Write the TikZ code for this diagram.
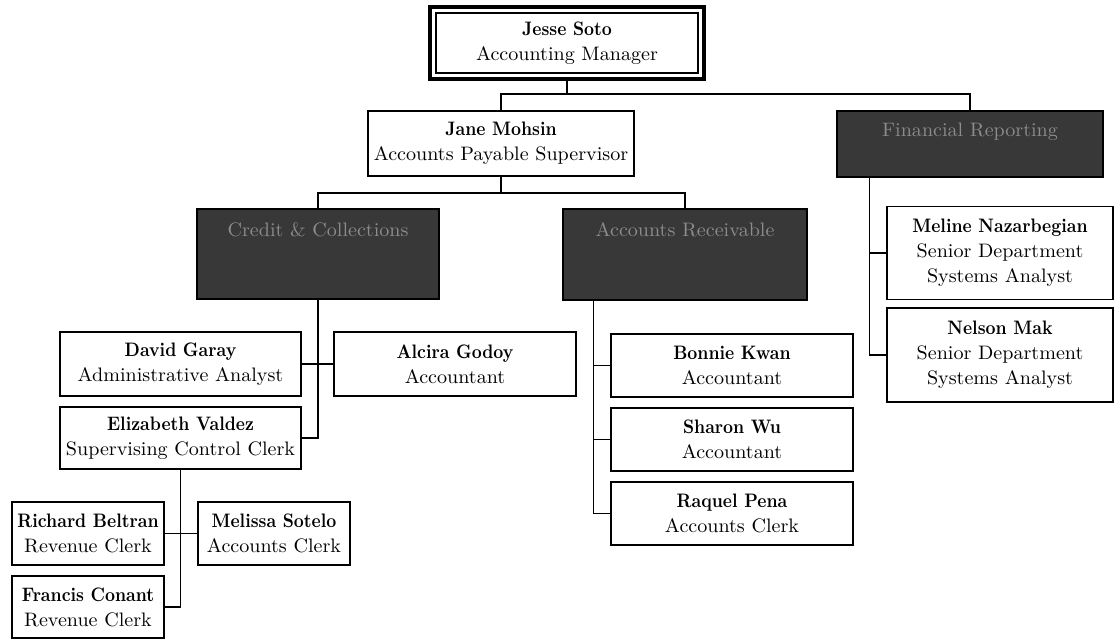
\documentclass[tikz,border=0pt]{standalone}
\usepackage{fontspec}
\setmainfont{lmroman10-regular.otf}[FakeStretch=1.03,
  BoldFont=lmroman10-bold.otf, BoldFeatures={FakeStretch=0.89}]
\usetikzlibrary{calc,fit}
\begin{document}
\begin{tikzpicture}[x=1pt,y=-1pt,
  box/.style={draw, line width=1.5pt, fill=white, align=center, inner sep=0pt,
    font=\fontsize{19.5}{25}\selectfont},
  dark/.style={draw, line width=1.5pt, fill=black!78, inner sep=0pt},
  dtext/.style={text=black!45, inner sep=0pt, font=\fontsize{19.5}{25}\selectfont},
  conn/.style={line width=1.5pt}]
\useasboundingbox[fill=white] (0,0) rectangle (1115,639);

% top
\node[box, line width=1.2pt, minimum width=262pt, minimum height=60pt] (jesse) at (567,43)
  {\textbf{Jesse Soto}\\Accounting Manager};
\node[draw, line width=4pt, fit=(jesse), inner sep=5pt] (jesseframe) {};

\node[box, minimum width=266pt, minimum height=65pt] (jane) at (501,143.5)
  {\textbf{Jane Mohsin}\\Accounts Payable Supervisor};
\node[dark, minimum width=266pt, minimum height=66pt] (fin) at (970,144) {};
\node[dtext, anchor=center] (fintxt) at ($(fin.north)+(0,21)$) {Financial Reporting};

\node[dark, minimum width=242pt, minimum height=90pt] (credit) at (318,254) {};
\node[dtext] (credittxt) at ($(credit.north)+(0,21)$) {Credit \& Collections};
\node[dark, minimum width=244pt, minimum height=91pt] (ar) at (685,254.5) {};
\node[dtext] (artxt) at ($(ar.north)+(0,21)$) {Accounts Receivable};

% financial reporting staff
\node[box, minimum width=226pt, minimum height=93pt] (meline) at (1000,253)
  {\textbf{Meline Nazarbegian}\\Senior Department\\Systems Analyst};
\node[box, minimum width=226pt, minimum height=94pt] (nelson) at (1000,355)
  {\textbf{Nelson Mak}\\Senior Department\\Systems Analyst};

% credit & collections staff
\node[box, minimum width=241pt, minimum height=64pt] (david) at (180.5,364)
  {\textbf{David Garay}\\Administrative Analyst};
\node[box, minimum width=242pt, minimum height=64pt] (alcira) at (455,364)
  {\textbf{Alcira Godoy}\\Accountant};
\node[box, minimum width=241pt, minimum height=62pt] (eliz) at (180.5,438)
  {\textbf{Elizabeth Valdez}\\Supervising Control Clerk};
\node[box, minimum width=152pt, minimum height=63pt] (richard) at (88,533.5)
  {\textbf{Richard Beltran}\\Revenue Clerk};
\node[box, minimum width=152pt, minimum height=63pt] (melissa) at (274,533.5)
  {\textbf{Melissa Sotelo}\\Accounts Clerk};
\node[box, minimum width=152pt, minimum height=62pt] (francis) at (88,607)
  {\textbf{Francis Conant}\\Revenue Clerk};

% accounts receivable staff
\node[box, minimum width=242pt, minimum height=63pt] (bonnie) at (732,365.5)
  {\textbf{Bonnie Kwan}\\Accountant};
\node[box, minimum width=242pt, minimum height=63pt] (sharon) at (732,439.5)
  {\textbf{Sharon Wu}\\Accountant};
\node[box, minimum width=242pt, minimum height=63pt] (raquel) at (732,513.5)
  {\textbf{Raquel Pena}\\Accounts Clerk};

% connectors
\path (jane.north) ++(0,-16) coordinate (jbus);
\draw[conn] (jesseframe.south) -- (jesseframe.south |- jbus);
\draw[conn] (jane.north) -- (jbus) -| (fin.north);

\path (jane.south) ++(0,16) coordinate (mbus);
\draw[conn] (jane.south) -- (mbus);
\draw[conn] (credit.north) |- (mbus) -| (ar.north);

\draw[conn] (credit.south) |- (eliz.east);
\draw[conn] (david.east) -- (alcira.west);

\coordinate (arx) at ([xshift=31pt]ar.south west);
\draw[conn] (arx) |- (raquel.west);
\draw[conn] (arx |- bonnie.west) -- (bonnie.west);
\draw[conn] (arx |- sharon.west) -- (sharon.west);

\coordinate (finx) at ([xshift=33pt]fin.south west);
\draw[conn] (finx) |- (nelson.west);
\draw[conn] (finx |- meline.west) -- (meline.west);

\draw[conn] (eliz.south) |- (francis.east);
\draw[conn] (richard.east) -- (melissa.west);
\end{tikzpicture}
\end{document}
